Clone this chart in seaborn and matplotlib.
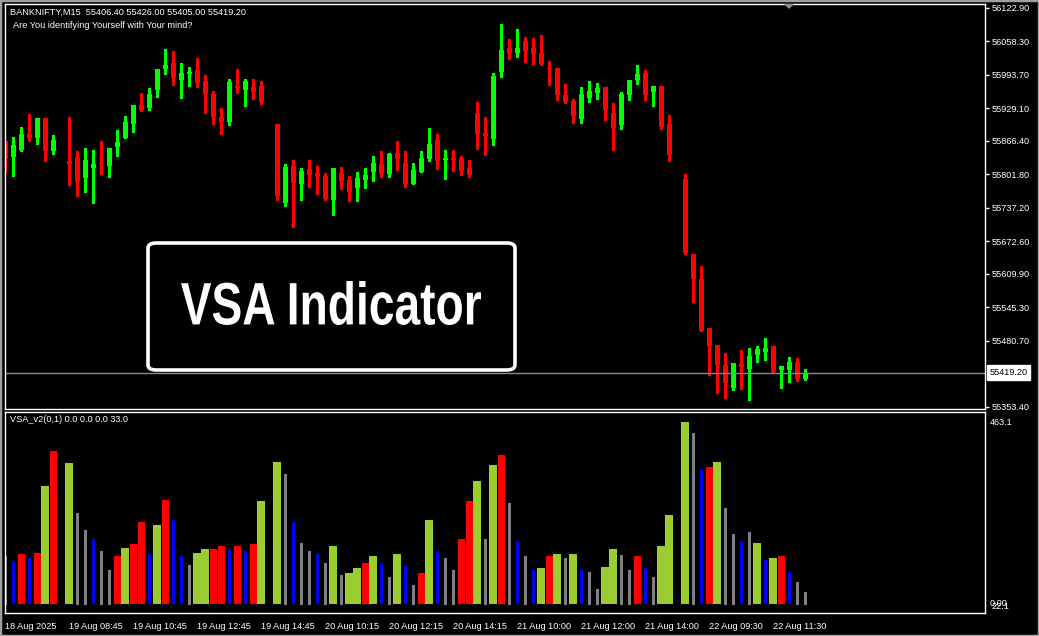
import numpy as np
import pandas as pd
import matplotlib
matplotlib.use("Agg")
import matplotlib.pyplot as plt
import seaborn as sns
from matplotlib.patches import FancyBboxPatch, Rectangle, Polygon, PathPatch
from matplotlib.textpath import TextPath
from matplotlib.font_manager import FontProperties
from matplotlib.transforms import Affine2D

nan = np.nan

# BANKNIFTY M15 candles (NaN = bar not drawn)
opens = [55865.9, 55835.0, 55848.5, 55879.4, 55871.7, 55910.3, 55846.6, nan, 55827.3, 55835.0,
         55794.5, 55813.8, 55823.5, 55817.7, 55854.3, 55871.7, 55898.7, 55935.4, 55929.6, 55964.3,
         56004.8, 56016.4, 55983.6, 55995.2, 56002.9, 55981.7, 55956.6, 55912.2, 55902.6, 55972.0,
         55964.3, 55970.1, 55972.0, nan, 55898.7, 55746.3, 55817.7, 55783.0, 55811.9, 55804.2,
         55798.4, 55752.1, 55804.2, 55790.7, 55775.2, 55790.7, 55806.1, 55821.5, 55802.3, 55842.8,
         55823.5, 55783.0, 55806.1, 55831.2, 55867.8, 55829.3, 55833.1, 55833.1, 55813.8, 55919.9,
         55881.3, 55869.8, 55999.0, 56045.3, 56035.7, 56058.8, 56045.3, 56035.7, 56006.7, 56006.7,
         55954.6, 55943.1, 55908.3, 55948.9, 55958.5, 55970.1, 55919.9, 55896.8, 55954.6, 55983.6,
         55997.1, 55960.4, 55972.0, 55898.7, nan, 55792.6, 55647.9, 55599.7, 55505.2, 55472.4,
         55433.8, 55389.4, 55435.7, 55426.1, 55453.1, 55458.9, 55470.5, 55424.2, 55424.2, 55439.6,
         55406.4]
highs = [55865.9, 55873.6, 55892.9, 55918.0, 55910.3, 55910.3, 55877.5, nan, 55912.2, 55846.6,
         55852.4, 55848.5, 55865.9, 55852.4, 55887.1, 55914.1, 55935.4, 55958.5, 55968.1, 56004.8,
         56043.4, 56039.5, 56016.4, 56008.7, 56026.0, 55993.2, 55962.4, 55929.6, 55985.5, 56004.8,
         55985.5, 55985.5, 55981.7, nan, 55898.7, 55821.5, 55829.3, 55813.8, 55829.3, 55817.7,
         55804.2, 55813.8, 55815.8, 55798.4, 55806.1, 55813.8, 55837.0, 55846.6, 55842.8, 55865.9,
         55846.6, 55823.5, 55846.6, 55891.0, 55879.4, 55848.5, 55848.5, 55837.0, 55829.3, 55941.1,
         55912.2, 55997.1, 56091.6, 56062.7, 56082.0, 56066.5, 56064.6, 56070.4, 56020.2, 56006.7,
         55975.9, 55946.9, 55970.1, 55981.7, 55977.8, 55970.1, 55939.2, 55960.4, 55983.6, 56012.5,
         56002.9, 55972.0, 55972.0, 55916.1, nan, 55802.3, 55647.9, 55624.8, 55505.2, 55472.4,
         55457.0, 55437.7, 55462.7, 55466.6, 55470.5, 55485.9, 55470.5, 55431.9, 55449.2, 55447.3,
         55426.0]
lows = [55806.1, 55798.4, 55846.6, 55865.9, 55860.1, 55827.3, 55840.8, nan, 55781.0, 55759.8,
        55767.5, 55746.3, 55802.3, 55796.5, 55837.0, 55871.7, 55883.3, 55923.8, 55925.7, 55950.8,
        55995.2, 55973.9, 55948.9, 55972.0, 55970.1, 55919.9, 55898.7, 55879.4, 55896.8, 55958.5,
        55933.4, 55946.9, 55937.3, nan, 55752.1, 55740.5, 55700.0, 55752.1, 55777.2, 55763.7,
        55752.1, 55723.2, 55773.3, 55750.2, 55750.2, 55775.2, 55788.8, 55796.5, 55796.5, 55810.0,
        55777.2, 55783.0, 55806.1, 55827.3, 55811.9, 55792.6, 55808.0, 55800.3, 55796.5, 55850.5,
        55838.9, 55858.2, 55989.4, 56024.1, 56027.9, 56018.3, 56014.4, 56012.5, 55973.9, 55945.0,
        55939.2, 55900.6, 55900.6, 55941.1, 55946.9, 55906.4, 55848.5, 55889.1, 55945.0, 55975.9,
        55945.0, 55933.4, 55889.1, 55827.3, nan, 55647.9, 55555.3, 55499.4, 55414.5, 55379.8,
        55370.2, 55385.6, 55387.5, 55366.3, 55439.6, 55443.5, 55420.3, 55389.4, 55401.0, 55403.0,
        55405.0]
closes = [55831.2, 55858.2, 55879.4, 55871.7, 55910.3, 55846.6, 55867.8, nan, 55821.5, 55786.8,
          55829.3, 55821.5, 55821.5, 55852.4, 55864.0, 55902.6, 55935.4, 55925.7, 55956.6, 56004.8,
          56012.5, 55987.4, 55997.1, 55999.0, 55977.8, 55956.6, 55912.2, 55902.6, 55979.7, 55968.1,
          55981.7, 55960.4, 55941.1, nan, 55759.8, 55815.8, 55784.9, 55808.0, 55800.3, 55798.4,
          55754.0, 55813.8, 55788.8, 55767.5, 55794.5, 55800.3, 55823.5, 55802.3, 55840.8, 55831.2,
          55783.0, 55810.0, 55833.1, 55860.1, 55827.3, 55833.1, 55829.3, 55808.0, 55800.3, 55879.4,
          55875.6, 55991.3, 56041.4, 56033.7, 56045.3, 56039.5, 56033.7, 56014.4, 56004.8, 55954.6,
          55941.1, 55914.1, 55956.6, 55962.4, 55968.1, 55925.7, 55891.0, 55956.6, 55983.6, 55995.2,
          55954.6, 55972.0, 55892.9, 55838.9, nan, 55649.9, 55599.7, 55499.4, 55470.5, 55433.8,
          55399.1, 55437.7, 55430.0, 55451.2, 55464.7, 55466.6, 55420.3, 55431.9, 55439.6, 55406.8,
          55419.2]

# VSA_v2 volume histogram and its colour class per bar
volume = [116, 104, 121, 111, 123, 283, 370, nan, 341, 220,
          177, 155, 126, 82, 114, 135, 143, 196, 121, 189,
          251, 201, 116, 94, 123, 131, 133, 140, 131, 140,
          126, 145, 249, nan, 343, 314, 198, 147, 126, 121,
          97, 140, 70, 75, 85, 97, 116, 99, 65, 121,
          92, 46, 73, 203, 126, 111, 82, 155, 247, 297,
          157, 334, 358, 242, 152, 114, 80, 85, 116, 121,
          109, 121, 82, 77, 34, 89, 131, 118, 82, 116,
          85, 65, 138, 215, nan, 438, 413, 324, 329, 343,
          230, 169, 152, 172, 147, 106, 111, 114, 77, 51,
          29]
vol_class = list("nbrbrgr-gn" "nbnnrgrrbg" "rbbnggrrbr" "brg-gnbnnb"
                 "ngnggrgbng" "bnrgbnnrrg" "ngrnbnbgrg" "ngbnnggnnr"
                 "bngg-gnbrg" "nnbngbgrbn" "n")

price_ticks = [56122.90, 56058.30, 55993.70, 55929.10, 55866.40, 55801.80,
               55737.20, 55672.60, 55609.90, 55545.30, 55480.70, 55353.40]
bid = 55419.20
time_ticks = list(range(0, 97, 8))
time_labels = ["18 Aug 2025", "19 Aug 08:45", "19 Aug 10:45", "19 Aug 12:45",
               "19 Aug 14:45", "20 Aug 10:15", "20 Aug 12:15", "20 Aug 14:15",
               "21 Aug 10:00", "21 Aug 12:00", "21 Aug 14:00", "22 Aug 09:30",
               "22 Aug 11:30"]

sns.set_theme(style="dark", rc={"axes.facecolor": "black", "figure.facecolor": "black",
                                "axes.edgecolor": "white", "text.color": "white",
                                "xtick.color": "white", "ytick.color": "white",
                                "axes.grid": False})
plt.rcParams["font.family"] = ["Liberation Sans", "DejaVu Sans"]
FS = 6.6

W, H = 1039, 636
fig = plt.figure(figsize=(W / 100, H / 100), dpi=100)


def fx(px):
    return px / W


def fy(py):
    return 1 - py / H


ax = fig.add_axes([fx(5), fy(409), fx(980), 405 / H])
ax2 = fig.add_axes([fx(5), fy(612.7), fx(980), 200.7 / H])

df = pd.DataFrame({"open": opens, "high": highs, "low": lows, "close": closes})
df["bar"] = np.arange(len(df))
df = df.dropna()
df["color"] = np.where(df["close"] >= df["open"], "#00FF00", "#FF0000")
ax.vlines(df["bar"], df["low"], df["high"], colors=df["color"], lw=1, antialiased=False)
body_lo = df[["open", "close"]].min(axis=1)
body_h = (df["close"] - df["open"]).abs().clip(lower=1.6)
ax.bar(df["bar"], body_h, bottom=body_lo, width=0.62, color=df["color"], linewidth=0,
       antialiased=False)

ax.axhline(bid, color="#7F8C9C", lw=1)
ax.set_xlim(-0.04, 122.46)
ax.set_ylim(55348.9, 56130.2)
ax.set_xticks([])
ax.yaxis.tick_right()
ax.set_yticks(price_ticks)
ax.set_yticklabels([f"{v:.2f}" for v in price_ticks])
ax.tick_params(axis="y", length=3, width=1, pad=2, labelsize=FS, colors="white")
ax.text(1.0045, bid, f"{bid:.2f}", transform=ax.get_yaxis_transform(), fontsize=FS,
        color="black", va="center", ha="left",
        bbox=dict(boxstyle="square,pad=0.3", fc="white", ec="white"))
for s in ax.spines.values():
    s.set_color("white")
    s.set_linewidth(1)

# volume panel
vol = pd.DataFrame({"bar": np.arange(len(volume)), "vol": volume, "cls": vol_class})
vol = vol[vol["cls"] != "-"]
styles = {"g": ("#9ACD32", 1.0), "r": ("#FF0000", 0.875), "b": ("#0000FF", 0.42)}
for cls, (c, w) in styles.items():
    sub = vol[vol["cls"] == cls]
    ax2.bar(sub["bar"], sub["vol"], width=w, color=c, linewidth=0, antialiased=False)
grey = vol[vol["cls"] == "n"]
ax2.vlines(grey["bar"], 0, grey["vol"], colors="#808080", lw=1, antialiased=False)
ax2.set_xlim(-0.04, 122.46)
ax2.set_ylim(-22.1, 463.1)
ax2.set_yticks([])
ax2.set_xticks(time_ticks)
ax2.set_xticklabels(time_labels, ha="left")
ax2.tick_params(axis="x", length=4, width=1, pad=3, labelsize=FS, colors="white")
for s in ax2.spines.values():
    s.set_color("white")
    s.set_linewidth(1)
ax2.text(1.005, 0.97, "463.1", transform=ax2.transAxes, fontsize=FS, va="top", ha="left")
ax2.text(1.005, 0, "0.00", transform=ax2.get_yaxis_transform(), fontsize=FS,
         va="center", ha="left")
ax2.text(1.007, 0.03, "22.1", transform=ax2.transAxes, fontsize=FS, va="center", ha="left")

# labels in the chart corners
fig.text(fx(10), fy(12), "BANKNIFTY,M15  55406.40 55426.00 55405.00 55419.20",
         fontsize=FS, va="center", ha="left")
fig.text(fx(13), fy(26), "Are You identifying Yourself with Your mind?",
         fontsize=FS, va="center", ha="left")
fig.text(fx(10), fy(420), "VSA_v2(0,1) 0.0 0.0 0.0 33.0",
         fontsize=FS, va="center", ha="left")
fig.patches.append(Polygon([(fx(784), fy(4)), (fx(794), fy(4)), (fx(789), fy(9))],
                           closed=True, transform=fig.transFigure, fc="#909090", ec="none"))

# title box with a condensed bold caption
box = FancyBboxPatch((fx(148), fy(370)), fx(367), 127 / H,
                     boxstyle="round,pad=0,rounding_size=0.008",
                     transform=fig.transFigure, fc="black", ec="white", lw=2.6, zorder=5)
fig.patches.append(box)
tp = TextPath((0, 0), "VSA Indicator", size=1,
              prop=FontProperties(family="Liberation Sans", weight="bold"))
ext = tp.get_extents()
x0, x1, y0, y1 = 181, 481, 281, 325
fit = (Affine2D().translate(-ext.x0, -ext.y0)
       .scale(fx(x1 - x0) / ext.width, ((y1 - y0) / H) / ext.height)
       .translate(fx(x0), fy(y1)))
fig.patches.append(PathPatch(fit.transform_path(tp), transform=fig.transFigure,
                             fc="white", ec="none", zorder=6))

fig.patches.append(Rectangle((0, 0), 1, 1, transform=fig.transFigure, fill=False,
                             ec="#A0A0A0", lw=2.5))

fig.savefig("out.png", dpi=100, facecolor="black")
